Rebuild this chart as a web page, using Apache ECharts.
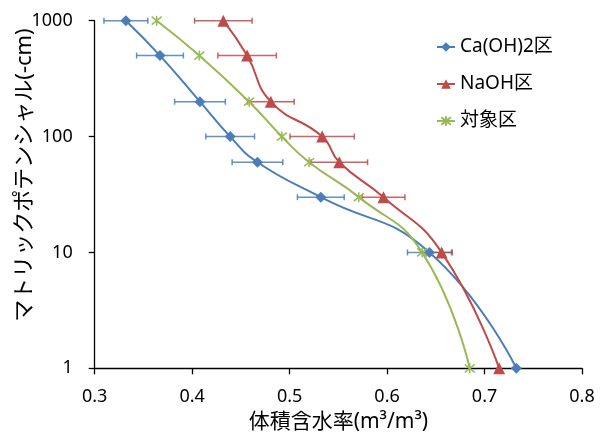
<!DOCTYPE html>
<html>
<head>
<meta charset="utf-8">
<script src="https://cdn.jsdelivr.net/npm/echarts@6/dist/echarts.min.js"></script>
<style>html,body{margin:0;padding:0;background:#fff}#c{width:605px;height:434px}</style>
</head>
<body>
<div id="c"></div>
<script>
// Matric potential levels (-cm)
const yValues = [1000, 500, 200, 100, 60, 30, 10, 1];
// Ca(OH)2区
const caX   = [0.332, 0.367, 0.408, 0.439, 0.467, 0.532, 0.6435, 0.7326];
const caErr = [0.0225, 0.024, 0.026, 0.025, 0.026, 0.024, 0.0226, 0];
// NaOH区
const naX   = [0.432, 0.4564, 0.4807, 0.5334, 0.551, 0.5963, 0.656, 0.715];
const naErr = [0.0295, 0.030, 0.024, 0.033, 0.029, 0.022, 0.011, 0];
// 対象区
const ctX   = [0.3636, 0.4074, 0.4584, 0.492, 0.520, 0.571, 0.636, 0.6848];
const xTicks = [0.3, 0.4, 0.5, 0.6, 0.7, 0.8];
const yTicks = [1, 10, 100, 1000];

const BLUE = '#4A7EBB', RED = '#BE4B48', GREEN = '#98B954';
const FONT = '"Noto Sans", "Noto Sans CJK JP", sans-serif';

function pts(xs){ return xs.map((x,i)=>[x, yValues[i]]); }
function errPts(xs, es){ return xs.map((x,i)=>[x, yValues[i], es[i]]).filter(d=>d[2]>0); }

function errSeries(data, color){
  return {
    type:'custom', coordinateSystem:'cartesian2d', z:1, silent:true,
    encode:{x:0, y:1},
    data,
    renderItem(params, api){
      const x=api.value(0), y=api.value(1), e=api.value(2);
      const a=api.coord([x-e,y]), b=api.coord([x+e,y]);
      const st={stroke:color, lineWidth:1.5, opacity:0.85};
      return {type:'group', children:[
        {type:'line', shape:{x1:a[0],y1:a[1],x2:b[0],y2:b[1]}, style:st},
        {type:'line', shape:{x1:a[0],y1:a[1]-3,x2:a[0],y2:a[1]+3}, style:st},
        {type:'line', shape:{x1:b[0],y1:b[1]-3,x2:b[0],y2:b[1]+3}, style:st}
      ]};
    }
  };
}

const chart = echarts.init(document.getElementById('c'));
chart.setOption({
  animation:false,
  backgroundColor:'#fff',
  grid:{left:94.7, right:23, top:20.7, bottom:65.7, containLabel:false, outerBoundsMode:'none'},
  xAxis:{
    type:'value', min:0.3, max:0.8, interval:0.1,
    name:'体積含水率(m³/m³)', nameLocation:'middle', nameGap:43,
    nameTextStyle:{fontFamily:FONT, fontSize:21, color:'#000'},
    axisLine:{lineStyle:{color:'#000', width:1.3}},
    axisTick:{inside:false, length:6, lineStyle:{color:'#000', width:1.3}},
    axisLabel:{fontFamily:FONT, fontSize:18, color:'#000', margin:20,
      formatter:v=>{const t=xTicks.find(k=>Math.abs(k-v)<1e-9); return t===undefined?'':t.toFixed(1);}},
    splitLine:{show:false}
  },
  yAxis:{
    type:'log', logBase:10, min:1, max:1000,
    axisLine:{show:true, lineStyle:{color:'#000', width:1.3}},
    axisTick:{show:true, inside:false, length:6, lineStyle:{color:'#000', width:1.3}},
    axisLabel:{fontFamily:FONT, fontSize:18, color:'#000', margin:22,
      formatter:v=>{const t=yTicks.find(k=>Math.abs(k-v)<1e-6); return t===undefined?'':String(t);}},
    minorTick:{show:false},
    splitLine:{show:false}
  },
  legend:{
    orient:'vertical', left:431, top:32,
    itemWidth:18, itemHeight:12, itemGap:17,
    textStyle:{fontFamily:FONT, fontSize:19, color:'#000', lineHeight:20},
    data:['Ca(OH)2区','NaOH区','対象区']
  },
  graphic:[{
    type:'text', x:25, y:175, rotation:Math.PI/2,
    style:{text:'マトリックポテンシャル(-cm)', font:'22px '+FONT, fill:'#000', textAlign:'center', textVerticalAlign:'middle'}
  }],
  series:[
    errSeries(errPts(caX, caErr), BLUE),
    errSeries(errPts(naX, naErr), RED),
    {name:'Ca(OH)2区', type:'line', z:3, smooth:0.5, data:pts(caX), color:BLUE,
      symbol:'diamond', symbolSize:11, lineStyle:{width:2, color:BLUE}, itemStyle:{color:BLUE}},
    {name:'NaOH区', type:'line', z:3, smooth:0.5, data:pts(naX), color:RED,
      symbol:'triangle', symbolSize:12, lineStyle:{width:2, color:RED}, itemStyle:{color:RED}},
    {name:'対象区', type:'line', z:3, smooth:0.5, data:pts(ctX), color:GREEN,
      symbol:'path://M1,1L9,9M9,1L1,9M5,0L5,10', symbolSize:10,
      lineStyle:{width:2, color:GREEN}, itemStyle:{color:GREEN, borderColor:GREEN, borderWidth:1.5}}
  ]
});
</script>
</body>
</html>
